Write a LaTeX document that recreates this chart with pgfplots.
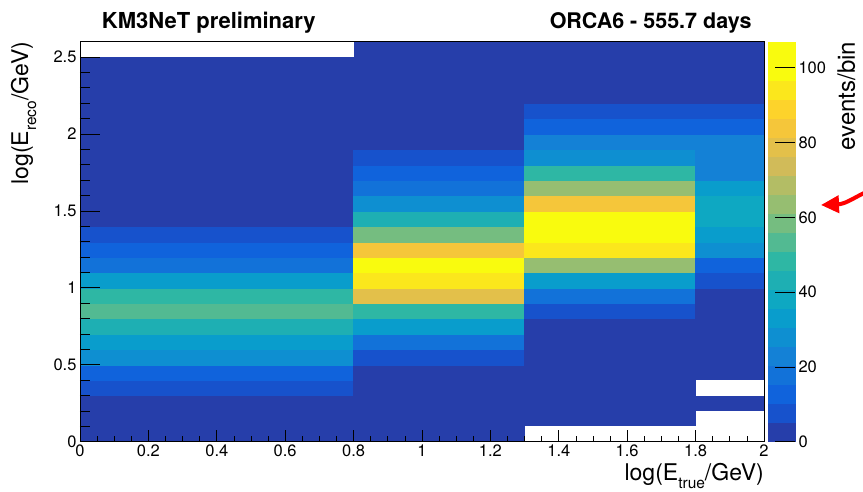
\documentclass[border=0pt]{standalone}
\usepackage{pgfplots}
\usepackage{pgfplotstable}
\pgfplotsset{compat=1.18}
\usepackage{fontspec}
\setmainfont{TeX Gyre Heros}
\usetikzlibrary{arrows.meta}
\newcommand{\fs}[1]{\fontsize{#1}{#1}\selectfont}

% cells: value of the bin whose lower-left corner is (x,y); last row/col are dummies
\pgfplotstableread{
x y c
0 0.0 2
0.8 0.0 2
1.3 0.0 0
1.8 0.0 0
2.0 0.0 0
0 0.1 2
0.8 0.1 2
1.3 0.1 2
1.8 0.1 0
2.0 0.1 0
0 0.2 2
0.8 0.2 2
1.3 0.2 2
1.8 0.2 2
2.0 0.2 0
0 0.3 8
0.8 0.3 2
1.3 0.3 2
1.8 0.3 0
2.0 0.3 0
0 0.4 13
0.8 0.4 2
1.3 0.4 2
1.8 0.4 2
2.0 0.4 0
0 0.5 26
0.8 0.5 9
1.3 0.5 2
1.8 0.5 2
2.0 0.5 0
0 0.6 35
0.8 0.6 19
1.3 0.6 2
1.8 0.6 2
2.0 0.6 0
0 0.7 45
0.8 0.7 34
1.3 0.7 2
1.8 0.7 2
2.0 0.7 0
0 0.8 56
0.8 0.8 50
1.3 0.8 8
1.8 0.8 2
2.0 0.8 0
0 0.9 46
0.8 0.9 77
1.3 0.9 19
1.8 0.9 2
2.0 0.9 0
0 1.0 35
0.8 1.0 93
1.3 1.0 35
1.8 1.0 8
2.0 1.0 0
0 1.1 19
0.8 1.1 99
1.3 1.1 62
1.8 1.1 14
2.0 1.1 0
0 1.2 14
0.8 1.2 83
1.3 1.2 93
1.8 1.2 27
2.0 1.2 0
0 1.3 9
0.8 1.3 57
1.3 1.3 106
1.8 1.3 35
2.0 1.3 0
0 1.4 2
0.8 1.4 45
1.3 1.4 100
1.8 1.4 39
2.0 1.4 0
0 1.5 2
0.8 1.5 29
1.3 1.5 83
1.8 1.5 36
2.0 1.5 0
0 1.6 2
0.8 1.6 19
1.3 1.6 62
1.8 1.6 34
2.0 1.6 0
0 1.7 2
0.8 1.7 14
1.3 1.7 48
1.8 1.7 25
2.0 1.7 0
0 1.8 2
0.8 1.8 9
1.3 1.8 30
1.8 1.8 25
2.0 1.8 0
0 1.9 1
0.8 1.9 2
1.3 1.9 24
1.8 1.9 25
2.0 1.9 0
0 2.0 1
0.8 2.0 2
1.3 2.0 14
1.8 2.0 14
2.0 2.0 0
0 2.1 1
0.8 2.1 1
1.3 2.1 8
1.8 2.1 10
2.0 2.1 0
0 2.2 1
0.8 2.2 1
1.3 2.2 2
1.8 2.2 2
2.0 2.2 0
0 2.3 1
0.8 2.3 1
1.3 2.3 1
1.8 2.3 1
2.0 2.3 0
0 2.4 1
0.8 2.4 1
1.3 2.4 1
1.8 2.4 1
2.0 2.4 0
0 2.5 0
0.8 2.5 1
1.3 2.5 1
1.8 2.5 1
2.0 2.5 0
0 2.6 0
0.8 2.6 0
1.3 2.6 0
1.8 2.6 0
2.0 2.6 0
}\histdata

\begin{document}
\begin{tikzpicture}[x=1pt,y=1pt]
\path[use as bounding box] (0,0) rectangle (863,491);
\begin{axis}[
  at={(80pt,49.3pt)}, anchor=south west,
  scale only axis, width=684pt, height=400pt,
  xmin=0, xmax=2, ymin=0, ymax=2.6,
  axis on top,
  colormap={bird}{
    rgb255=(38,62,170) rgb255=(23,82,204) rgb255=(16,99,220) rgb255=(18,114,217)
    rgb255=(20,129,214) rgb255=(14,143,209) rgb255=(9,157,204) rgb255=(14,168,194)
    rgb255=(30,175,179) rgb255=(46,183,164) rgb255=(82,186,146) rgb255=(117,189,128)
    rgb255=(150,190,113) rgb255=(179,189,101) rgb255=(209,187,89) rgb255=(227,192,74)
    rgb255=(245,198,58) rgb255=(253,211,43) rgb255=(251,231,28) rgb255=(249,251,14)
    rgb255=(249,251,14)},
  colormap access=piecewise constant,
  point meta min=0, point meta max=107,
  xtick={0,0.2,0.4,0.6,0.8,1,1.2,1.4,1.6,1.8,2},
  minor x tick num=3,
  ytick=\empty,
  xtick pos=bottom, tick align=inside,
  major tick length=12pt, minor tick length=6pt,
  tick style={black, line width=0.8pt},
  axis line style={black, line width=0.8pt},
  /pgf/number format/assume math mode=true,
  tick label style={font=\fs{16.5}},
  xlabel={log(E\raisebox{-8pt}{\fs{15.5}true}/GeV)},
  xlabel style={at={(axis description cs:1,-0.0975)}, anchor=base east, inner sep=0pt, font=\fs{23}},
  colorbar,
  colorbar style={
    at={(parent axis.north east)}, anchor=north west, xshift=-4.5pt,
    width=27pt,
    axis on top,
    ytick={0,20,40,60,80,100},
    minor y tick num=0,
    yticklabel pos=right, ytick pos=right, tick align=inside,
    major tick length=20pt,
    tick style={black, line width=0.8pt},
    axis line style={draw=none},
    /pgf/number format/assume math mode=true,
    tick label style={font=\fs{16.5}},
    ylabel={events/bin},
    ylabel style={at={(axis description cs:3.22,1)}, anchor=base east, inner sep=0pt, font=\fs{24}},
  },
]
\addplot[surf, shader=flat corner, mesh/cols=5, point meta=explicit] table[x=x, y=y, meta=c] {\histdata};
% empty bins
\addplot[fill=white, draw=none, mark=none] coordinates {(0,2.5) (0.8,2.5) (0.8,2.6) (0,2.6)} -- cycle;
\addplot[fill=white, draw=none, mark=none] coordinates {(1.3,0) (1.8,0) (1.8,0.1) (1.3,0.1)} -- cycle;
\addplot[fill=white, draw=none, mark=none] coordinates {(1.8,0) (2,0) (2,0.2) (1.8,0.2)} -- cycle;
\addplot[fill=white, draw=none, mark=none] coordinates {(1.8,0.3) (2,0.3) (2,0.4) (1.8,0.4)} -- cycle;
\end{axis}
\begin{axis}[
  at={(80pt,49.3pt)}, anchor=south west,
  scale only axis, width=684pt, height=400pt,
  xmin=0, xmax=2, ymin=0, ymax=2.6,
  hide x axis,
  axis line style={draw=none},
  ytick={0,0.5,1,1.5,2,2.5},
  minor y tick num=4,
  ytick pos=left, tick align=inside,
  major tick length=20.5pt, minor tick length=10pt,
  tick style={black, line width=0.8pt},
  /pgf/number format/assume math mode=true,
  tick label style={font=\fs{16.5}},
  ylabel={log(E\raisebox{-8pt}{\fs{15.5}reco}/GeV)},
  ylabel style={at={(axis description cs:-0.076,1)}, anchor=base east, inner sep=0pt, font=\fs{23}},
]
\end{axis}
\node[anchor=base west, inner sep=0pt, font=\bfseries\fs{22}] at (101.7,462.7) {KM3NeT preliminary};
\node[anchor=base east, inner sep=0pt, font=\bfseries\fs{21.5}] at (751.7,462.7) {ORCA6 - 555.7 days};
\draw[red, line width=4pt, -{Triangle[length=18pt,width=17pt]}] (864,298) .. controls (852,292) and (845,287) .. (821,286);
\end{tikzpicture}
\end{document}
